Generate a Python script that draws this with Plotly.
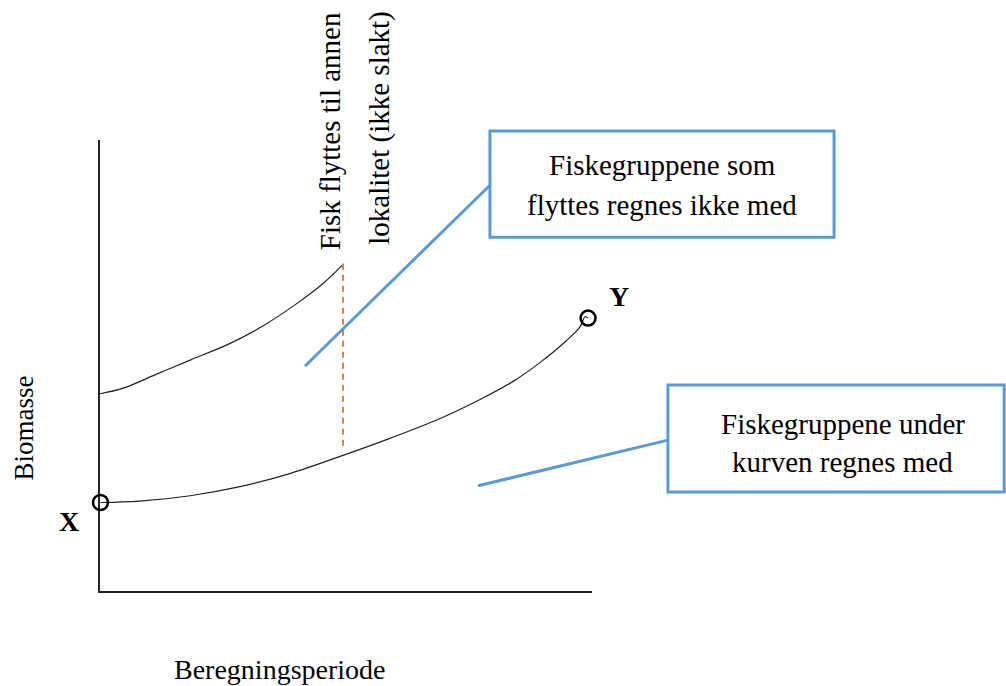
import plotly.graph_objects as go

# Conceptual data (period 0-100, biomass 0-100)
period_lower = [0.3, 8.3, 18.5, 28.6, 38.7, 48.9, 59.0, 69.2, 77.3, 84.0, 89.5, 94.9, 97.6, 98.6, 99.2]
biomass_lower = [19.8, 20.1, 21.3, 23.3, 26.2, 30.0, 34.0, 38.4, 42.6, 46.6, 50.8, 55.7, 58.7, 60.9, 60.6]
period_upper = [0, 4.9, 11.7, 18.5, 26.6, 33.3, 40.1, 45.5, 49.6]
biomass_upper = [43.8, 45.1, 48.2, 51.3, 55.0, 58.9, 63.8, 68.3, 72.6]
move_period = [49.5, 49.5]
move_biomass = [72.6, 31.4]
point_period = [0.3, 99.2]
point_biomass = [19.8, 60.6]
point_labels = ["X", "Y"]
axis_x = [0, 0, 100]
axis_y = [100, 0, 0]

serif = "Times New Roman, Liberation Serif, serif"
blue = "#5B9BD5"

fig = go.Figure()
fig.add_trace(go.Scatter(x=axis_x, y=axis_y, mode="lines",
                         line=dict(color="#222", width=2), hoverinfo="skip"))
fig.add_trace(go.Scatter(x=period_upper, y=biomass_upper, mode="lines",
                         line=dict(color="#222", width=1.2, shape="spline", smoothing=1.0),
                         hoverinfo="skip"))
fig.add_trace(go.Scatter(x=period_lower, y=biomass_lower, mode="lines",
                         line=dict(color="#222", width=1.2, shape="spline", smoothing=1.0),
                         hoverinfo="skip"))
fig.add_trace(go.Scatter(x=move_period, y=move_biomass, mode="lines",
                         line=dict(color="#ED7D31", width=2, dash="6px,5px"), hoverinfo="skip"))
fig.add_trace(go.Scatter(x=point_period, y=point_biomass, mode="markers",
                         marker=dict(symbol="circle-open", size=15, color="black",
                                     line=dict(width=2.5, color="black")),
                         hoverinfo="skip", cliponaxis=False))

# Callout leader lines
fig.add_shape(type="line", x0=41.8, y0=50.0, x1=79.3, y1=90.0, line=dict(color=blue, width=3))
fig.add_shape(type="line", x0=76.9, y0=23.5, x1=115.4, y1=33.6, line=dict(color=blue, width=3))
# Callout boxes
fig.add_shape(type="rect", x0=79.3, y0=78.5, x1=149.1, y1=102.0,
              line=dict(color=blue, width=3), fillcolor="white")
fig.add_shape(type="rect", x0=115.4, y0=22.1, x1=183.6, y1=45.8,
              line=dict(color=blue, width=3), fillcolor="white")

def txt(x, y, s, size=29, angle=0, bold=False):
    fig.add_annotation(x=x, y=y, text=("<b>%s</b>" % s) if bold else s, showarrow=False,
                       textangle=angle, font=dict(family=serif, size=size, color="black"),
                       xanchor="center", yanchor="middle")

txt(114.2, 94.5, "Fiskegruppene som")
txt(114.2, 85.6, "flyttes regnes ikke med")
txt(150.9, 37.2, "Fiskegruppene under")
txt(150.9, 28.8, "kurven regnes med")
txt(46.9, 102.0, "Fisk flyttes til annen", angle=-90)
txt(56.9, 102.6, "lokalitet (ikke slakt)", angle=-90)
txt(-6.1, 15.7, point_labels[0], size=28, bold=True)
txt(105.5, 65.3, point_labels[1], size=28, bold=True)
txt(-15.3, 36.3, "Biomasse", size=27, angle=-90)
txt(36.7, -17.1, "Beregningsperiode", size=28)

fig.update_layout(
    width=1006, height=686, margin=dict(l=0, r=0, t=0, b=0),
    paper_bgcolor="white", plot_bgcolor="white", showlegend=False,
    font=dict(family=serif),
    xaxis=dict(range=[-20.081, 183.976], visible=False, domain=[0, 1]),
    yaxis=dict(range=[-20.796, 130.973], visible=False, domain=[0, 1]),
)
fig.write_html("out.html", post_script="document.body.style.margin='0';",
               config={"displayModeBar": False})
